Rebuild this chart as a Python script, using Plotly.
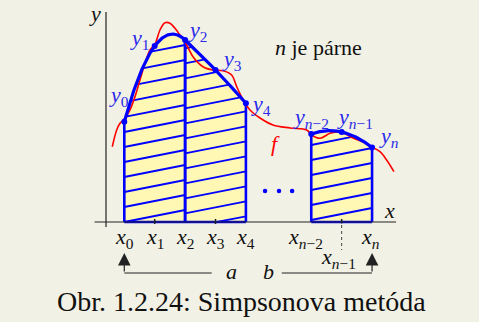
import numpy as np
import plotly.graph_objects as go

# ---------------- data (x in steps of h, y in axis units) ----------------
x_nodes = [0, 1, 2, 3, 4, 6.15, 7.15, 8.15]
y_nodes = [10.03, 17.6, 18.2, 15.2, 11.87, 8.8, 9.0, 7.45]
node_sub = ["0", "1", "2", "3", "4", "<i>n</i>−2", "<i>n</i>−1", "<i>n</i>"]
strips = [(0, 1, 2), (2, 3, 4), (5, 6, 7)]          # node indices of each Simpson pair
f_x = [-0.395, -0.25, -0.141, 0.023, 0.188, 0.352, 0.516, 0.681, 0.845, 1.01, 1.174,
       1.339, 1.503, 1.668, 1.832, 1.997, 2.26, 2.589, 2.918, 3.247, 3.533, 3.697,
       3.914, 4.135, 4.464, 4.892, 5.451, 6.0, 6.164, 6.438, 6.766, 7.095, 7.52,
       7.82, 8.148, 8.41, 8.63, 8.87]
f_y = [7.53, 9.2, 9.87, 10.37, 11.2, 12.53, 14.2, 15.87, 17.2, 17.8, 19.2,
       19.93, 19.87, 19.37, 18.7, 18.03, 16.53, 15.53, 15.2, 15.13, 14.7, 13.53,
       12.2, 11.2, 10.4, 9.7, 9.4, 9.2, 8.7, 8.37, 8.87, 9.03, 8.4,
       8.05, 7.5, 7.03, 6.2, 5.03]
hatch_offset = [0.0, 0.87, 0.2]
caption = "Obr. 1.2.24: Simpsonova metóda"
note = "<i>n</i> je párne"

BLUE = "#0000ff"
LBLUE = "#2a2ae8"
RED = "#ff0000"
FILL = "#fff8b4"
BG = "#f2f1e6"
FONT = "Liberation Serif"


def parab(xs, ys, t):
    t = np.asarray(t, dtype=float)
    (a, b, c), (ya, yb, yc) = xs, ys
    return (ya * (t - b) * (t - c) / ((a - b) * (a - c))
            + yb * (t - a) * (t - c) / ((b - a) * (b - c))
            + yc * (t - a) * (t - b) / ((c - a) * (c - b)))


fig = go.Figure()

slope, spacing = 0.6, 1.5
vx, vy = [], []
for si, (i, j, k) in enumerate(strips):
    xs = [x_nodes[i], x_nodes[j], x_nodes[k]]
    ys = [y_nodes[i], y_nodes[j], y_nodes[k]]
    t = np.linspace(xs[0], xs[2], 400)
    p = parab(xs, ys, t)
    # yellow area
    fig.add_trace(go.Scatter(x=list(t) + [xs[2], xs[0]], y=list(p) + [0, 0],
                             fill="toself", fillcolor=FILL, mode="none",
                             hoverinfo="skip"))
    # hatch lines
    hx, hy = [], []
    c = hatch_offset[si] - spacing * np.ceil(slope * (xs[2] - xs[0]) / spacing)
    while c < max(p):
        ly = c + slope * (t - xs[0])
        m = (ly >= 0) & (ly <= p)
        if m.any():
            idx = np.where(m)[0]
            hx += [float(t[idx[0]]), float(t[idx[-1]]), None]
            hy += [float(ly[idx[0]]), float(ly[idx[-1]]), None]
        c += spacing
    fig.add_trace(go.Scatter(x=hx, y=hy, mode="lines",
                             line=dict(color=BLUE, width=1.8), hoverinfo="skip"))
    vx += [xs[0], xs[0], None, xs[2], xs[2], None]
    vy += [0, ys[0], None, 0, ys[2], None]

# verticals
fig.add_trace(go.Scatter(x=vx, y=vy, mode="lines",
                         line=dict(color=BLUE, width=2.6), hoverinfo="skip"))
# bottom edges
fig.add_trace(go.Scatter(x=[x_nodes[0], x_nodes[4], None, x_nodes[5], x_nodes[7]],
                         y=[0, 0, None, 0, 0], mode="lines",
                         line=dict(color=BLUE, width=2.6), hoverinfo="skip"))

# function f
fig.add_trace(go.Scatter(x=f_x, y=f_y, mode="lines",
                         line=dict(color=RED, width=1.6, shape="spline", smoothing=1.0),
                         hoverinfo="skip"))

# parabolas
for (i, j, k) in strips:
    xs = [x_nodes[i], x_nodes[j], x_nodes[k]]
    ys = [y_nodes[i], y_nodes[j], y_nodes[k]]
    t = np.linspace(xs[0], xs[2], 200)
    fig.add_trace(go.Scatter(x=t, y=parab(xs, ys, t), mode="lines",
                             line=dict(color=BLUE, width=3.2), hoverinfo="skip"))

# nodes
fig.add_trace(go.Scatter(x=x_nodes, y=y_nodes, mode="markers",
                         marker=dict(color=BLUE, size=6), hoverinfo="skip"))
# ellipsis
fig.add_trace(go.Scatter(x=[4.63, 5.09, 5.52], y=[3.1, 3.1, 3.1], mode="markers",
                         marker=dict(color=BLUE, size=4.5), hoverinfo="skip"))

shapes = [
    dict(type="line", x0=-0.602, x1=-0.602, y0=-0.5, y1=21.0, line=dict(color="#222", width=1.2)),
    dict(type="line", x0=-0.977, x1=8.94, y0=0, y1=0, line=dict(color="#222", width=1.2)),
    dict(type="line", x0=1, x1=1, y0=-0.2, y1=0.3, line=dict(color="#222", width=1.5)),
    dict(type="line", x0=3, x1=3, y0=-0.2, y1=0.3, line=dict(color="#222", width=1.5)),
    dict(type="line", x0=7.15, x1=7.15, y0=-0.15, y1=0.3, line=dict(color="#222", width=1.5)),
    dict(type="line", x0=7.15, x1=7.15, y0=-0.3, y1=-2.8, line=dict(color="#444", width=1, dash="dot")),
    dict(type="line", x0=0, x1=2.875, y0=-5.1, y1=-5.1, line=dict(color="#222", width=1.2)),
    dict(type="line", x0=5.18, x1=8.15, y0=-5.1, y1=-5.1, line=dict(color="#222", width=1.2)),
]

ann = []
shifts = [(-5, 26), (-15, 7), (12, 9), (16, 10), (15, -2), (0, 16), (13, 14), (17, 11)]
for xv, yv, s, (dx, dy) in zip(x_nodes, y_nodes, node_sub, shifts):
    ann.append(dict(x=xv, y=yv, text=f"<i>y</i><sub>{s}</sub>", showarrow=False,
                    xshift=dx, yshift=dy, font=dict(family=FONT, size=22, color=LBLUE)))
xl_shift = [0, 0, 0, 0, 0, -6, -3, -2]
for idx, xv in enumerate(x_nodes):
    yl = -3.55 if idx == 6 else -1.6
    ann.append(dict(x=xv, y=yl, xshift=xl_shift[idx], text=f"<i>x</i><sub>{node_sub[idx]}</sub>",
                    showarrow=False, font=dict(family=FONT, size=22, color="#111")))
ann += [
    dict(x=-0.95, y=20.9, text="<i>y</i>", showarrow=False, font=dict(family=FONT, size=22, color="#111")),
    dict(x=8.74, y=1.2, text="<i>x</i>", showarrow=False, font=dict(family=FONT, size=22, color="#111")),
    dict(x=4.96, y=7.9, text="<i>f</i>", showarrow=False, font=dict(family=FONT, size=22, color=RED)),
    dict(x=6.4, y=17.5, text=note, showarrow=False, font=dict(family=FONT, size=22, color="#111")),
    dict(x=3.53, y=-4.9, text="<i>a</i>", showarrow=False, font=dict(family=FONT, size=22, color="#111")),
    dict(x=4.73, y=-4.9, text="<i>b</i>", showarrow=False, font=dict(family=FONT, size=22, color="#111")),
    dict(x=0, y=-3.1, ax=0, ay=-5.1, axref="x", ayref="y", xref="x", yref="y", text="",
         showarrow=True, arrowhead=2, arrowsize=2.1, arrowwidth=1.2, arrowcolor="#222"),
    dict(x=8.15, y=-3.1, ax=8.15, ay=-5.1, axref="x", ayref="y", xref="x", yref="y", text="",
         showarrow=True, arrowhead=2, arrowsize=2.1, arrowwidth=1.2, arrowcolor="#222"),
    dict(x=242 / 479, y=(322 - 301) / 322, xref="paper", yref="paper", xanchor="center",
         yanchor="middle", text=caption, showarrow=False,
         font=dict(family=FONT, size=28, color="#111")),
]

fig.update_layout(
    width=479, height=322, margin=dict(l=0, r=0, t=0, b=0),
    paper_bgcolor=BG, plot_bgcolor=BG, showlegend=False,
    xaxis=dict(range=[-4.089, 11.668], visible=False, fixedrange=True),
    yaxis=dict(range=[-10, 22.2], visible=False, fixedrange=True),
    shapes=shapes, annotations=ann,
)

fig.write_html("out.html", config={"displayModeBar": False},
               post_script="document.body.style.margin='0';document.body.style.overflow='hidden';")
